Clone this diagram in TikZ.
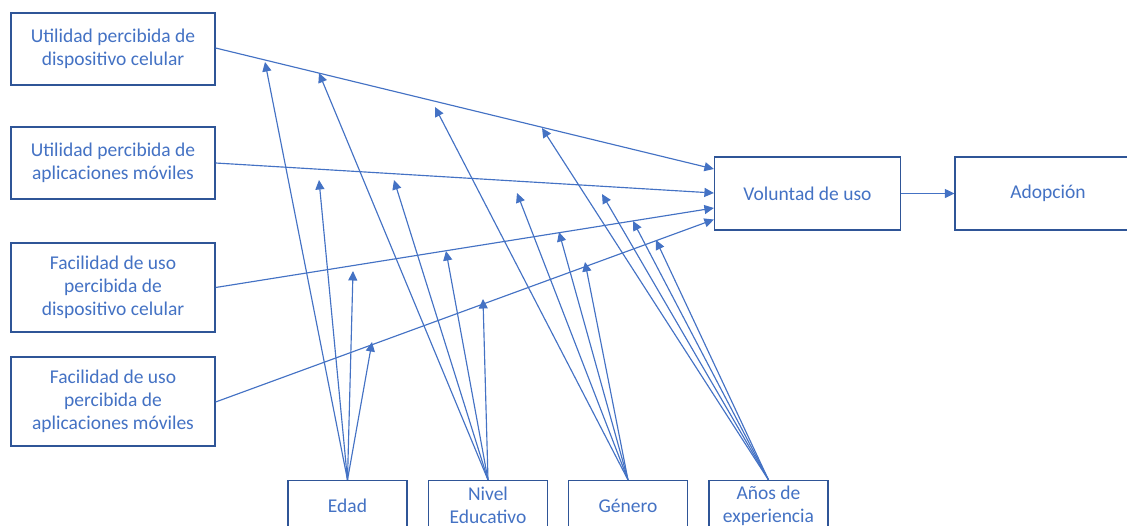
\documentclass[tikz,border=0pt]{standalone}
\usepackage{fontspec}
\setmainfont{Carlito}
\usetikzlibrary{arrows.meta}
\definecolor{linkblue}{HTML}{4472C4}
\definecolor{boxblue}{HTML}{2F5597}
\begin{document}
\begin{tikzpicture}[x=1pt,y=-1pt,
  box/.style={draw=boxblue,line width=1.2pt,fill=white,text=linkblue,
    align=center,inner sep=0pt,
    font=\fontsize{19.5}{23}\selectfont},
  leftbox/.style={box,minimum width=204,minimum height=72},
  tallbox/.style={box,minimum width=204,minimum height=89},
  midbox/.style={box,minimum width=186,minimum height=73},
  modbox/.style={box,minimum width=119,minimum height=50},
  link/.style={draw=linkblue,line width=1.15pt,
    -{Triangle[length=9.5pt,width=9pt]}}]
\clip (0,0) rectangle (1127,525);

% constructs on the left
\node[leftbox] (upd) at (113,49) {Utilidad percibida de\\dispositivo celular};
\node[leftbox] (upa) at (113,163) {Utilidad percibida de\\aplicaciones móviles};
\node[tallbox] (fpd) at (113,287.5) {Facilidad de uso\\percibida de\\dispositivo celular};
\node[tallbox] (fpa) at (113,401.5) {Facilidad de uso\\percibida de\\aplicaciones móviles};

% intention and adoption
\node[midbox] (vol) at (807.5,193.5) {Voluntad de uso};
\node[midbox] (adop) at (1048,193.5) {Adopción};

% moderators along the bottom
\node[modbox] (edad) at (347.5,505.5) {Edad};
\node[modbox] (nivel) at (488,505.5) {Nivel\\Educativo};
\node[modbox] (genero) at (628,505.5) {Género};
\node[modbox] (anios) at (768.5,505.5) {Años de\\experiencia};

% main effects
\draw[link] (upd.east |- 0,48) -- (vol.west |- 0,169);
\draw[link] (upa.east) -- (vol.west |- 0,193);
\draw[link] (fpd.east) -- (vol.west |- 0,208);
\draw[link] (fpa.east |- 0,402) -- (vol.west |- 0,219.5);
\draw[link] (vol.east) -- (adop.west);

% points where the moderating arrows end
\coordinate (e1) at (265,62);
\coordinate (e2) at (319,180);
\coordinate (e3) at (353,271);
\coordinate (e4) at (372,342);
\coordinate (n1) at (319,73);
\coordinate (n2) at (394,180);
\coordinate (n3) at (446,251);
\coordinate (n4) at (483,299);
\coordinate (g1) at (435,107);
\coordinate (g2) at (517,193);
\coordinate (g3) at (559,232);
\coordinate (g4) at (585,262);
\coordinate (a1) at (542,128);
\coordinate (a2) at (602,194);
\coordinate (a3) at (633,221);
\coordinate (a4) at (656,240);

% moderating effects
\foreach \t in {e1,e2,e3,e4} \draw[link] (edad.north) -- (\t);
\foreach \t in {n1,n2,n3,n4} \draw[link] (nivel.north) -- (\t);
\foreach \t in {g1,g2,g3,g4} \draw[link] (genero.north) -- (\t);
\foreach \t in {a1,a2,a3,a4} \draw[link] (anios.north) -- (\t);
\end{tikzpicture}
\end{document}
